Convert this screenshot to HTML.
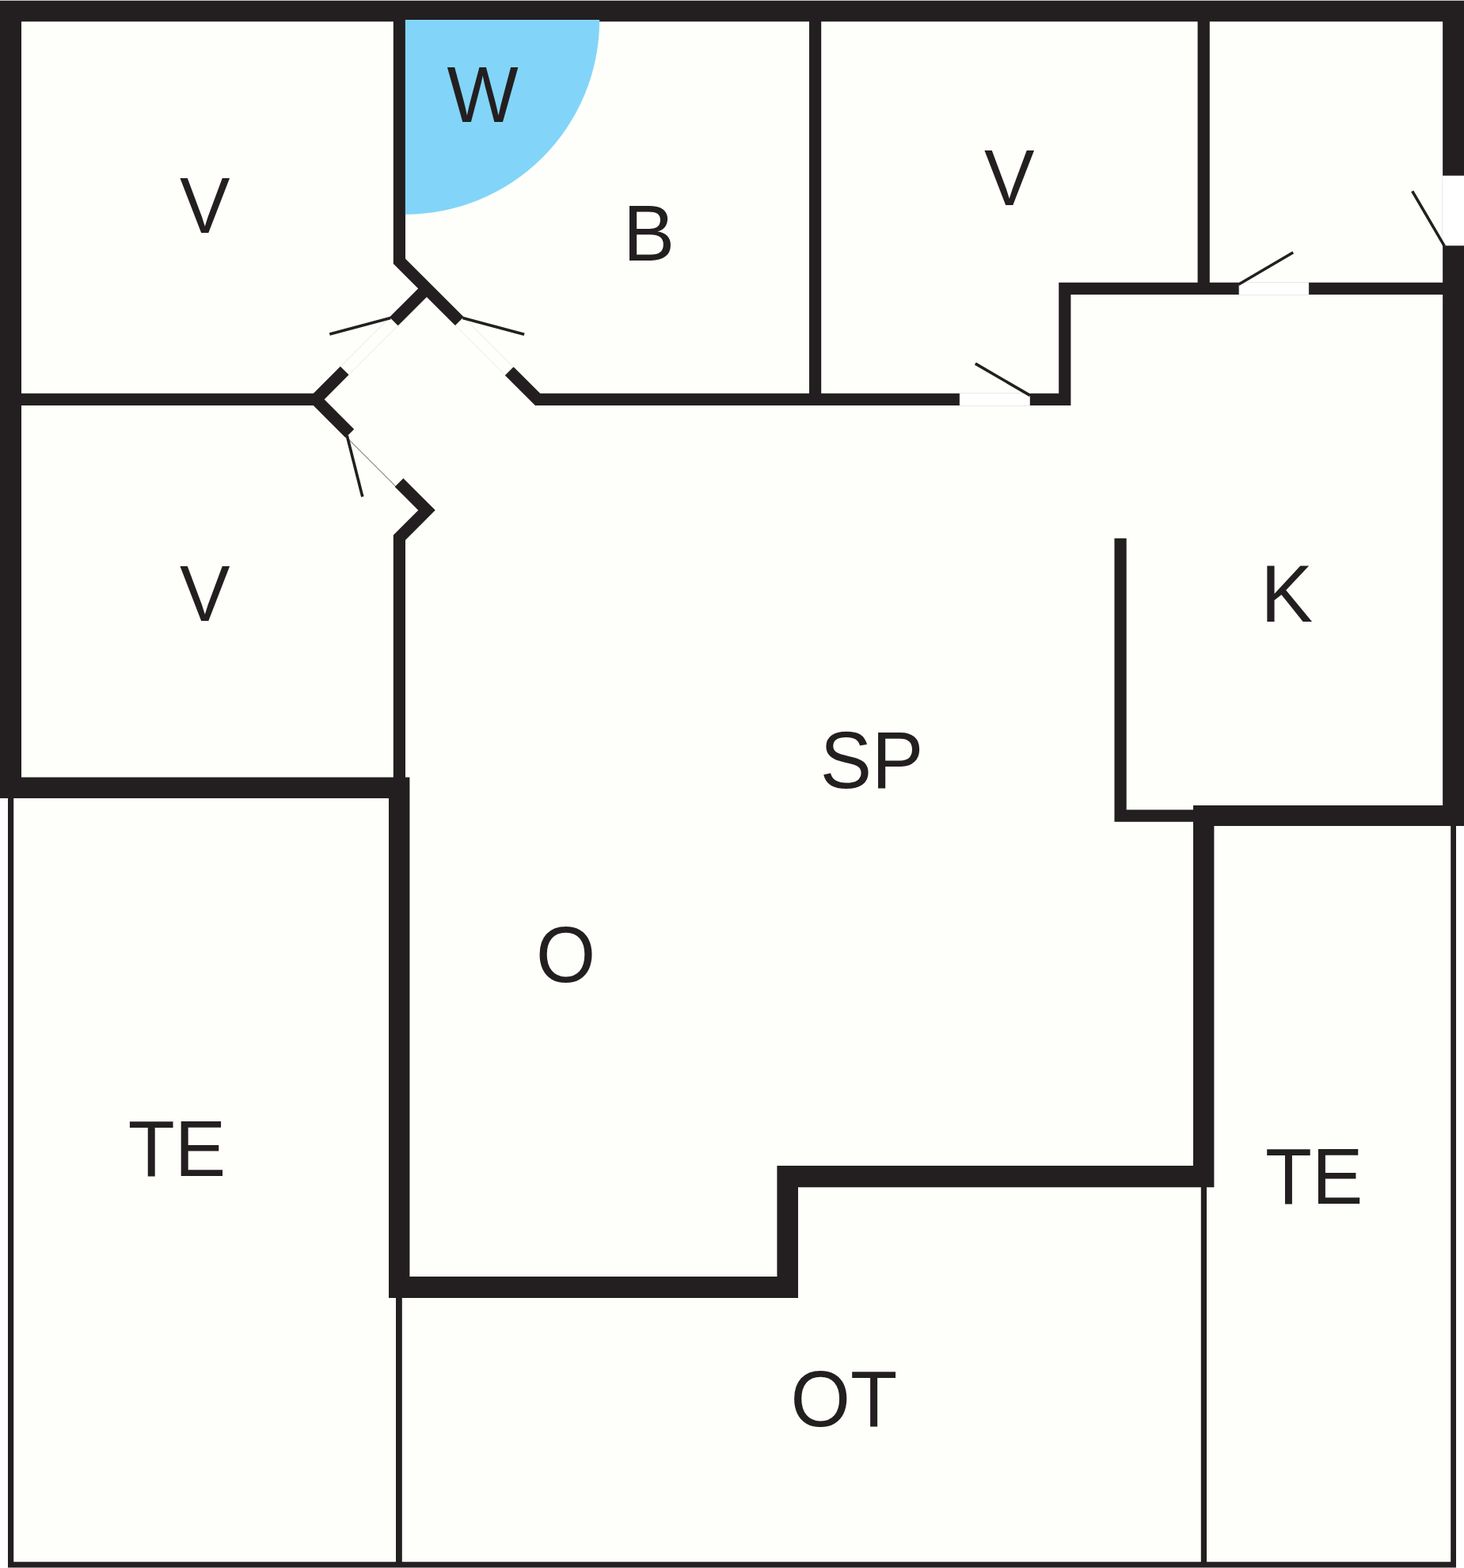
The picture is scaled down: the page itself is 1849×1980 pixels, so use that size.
<!DOCTYPE html>
<html lang="en">
<head>
<meta charset="utf-8">
<title>Floor plan</title>
<style>
html,body{margin:0;padding:0;background:#ffffff;}
body{width:1849px;height:1980px;overflow:hidden;}
svg{display:block;}
.lbl{font-family:"Liberation Sans",sans-serif;font-size:96.6px;fill:#231f20;}
.w{fill:#231f20;}
.t{fill:none;stroke:#231f20;stroke-width:15.2;stroke-linejoin:miter;stroke-linecap:butt;}
.d{fill:none;stroke:#231f20;stroke-width:3.6;stroke-linecap:butt;}
.o{fill:#ffffff;stroke:#e2e3df;stroke-width:0.7;}
.od{fill:none;stroke:#e4e5e0;stroke-width:0.9;}
</style>
</head>
<body>
<svg width="1849" height="1980" viewBox="0 0 1849 1980">
<!-- interior floor -->
<path fill="#fefffa" d="M0 0H1849V1043H1839V1980H10V1008H0Z"/>

<!-- thin walls -->
<g class="t">
<path d="M504.4 20V329.8L580.3 405.6"/>
<path d="M538.9 364.3L497.3 405.9"/>
<path d="M435.2 468L398.9 504.4L441.8 547.3"/>
<path d="M20 504.4H398.9"/>
<path d="M643.2 468.6L679.1 504.4H1212.2"/>
<path d="M1300.4 504.4H1344.8V364.3H1565"/>
<path d="M1652.8 364.3H1830"/>
<path d="M1029.6 20V504.4"/>
<path d="M1520.2 20V364.3"/>
<path d="M504 609.3L539 644.3L504.4 678.9V990"/>
<path d="M1415.1 679.7V1030.2H1510"/>
</g>

<!-- door openings -->
<g class="o">
<rect x="1212.2" y="496.6" width="88.2" height="15.8"/>
<rect x="1565" y="356.6" width="87.8" height="15.8"/>
<rect x="1821.6" y="221.7" width="30" height="88.6"/>
<path class="od" d="M492.1 400.8L430.1 462.9M502.5 411.1L440.3 473.2"/>
<path class="od" d="M585.5 400.4L648.4 463.4M575.1 410.8L638 473.8"/>
</g>
<path d="M437 551.5L499.2 613.7" stroke="#231f20" stroke-width="0.8" fill="none"/>

<!-- door leaves -->
<g class="d">
<path d="M493.2 401.5L416.3 422"/>
<path d="M584.4 401.5L662.1 422.2"/>
<path d="M438.3 550.2L457.8 627.3"/>
<path d="M1301 499.4L1231.8 459.1"/>
<path d="M1564.2 359.2L1633.2 318.7"/>
<path d="M1824.4 310.8L1783.7 241.4"/>
</g>

<!-- thick outer walls -->
<path class="w" d="M0 0.8H1849V221.7H1822.1V27.2H27V981.6H517.4V1612H981.4V1472H1507V1017H1822.1V310.3H1849V1043.1H1533.4V1499.2H1008V1638.9H491V1007.9H0Z"/>

<!-- shower -->
<path fill="#82d5f8" d="M511.9 25.1H757.2A245.4 245.6 0 0 1 511.9 270.7Z"/>

<!-- terrace outlines -->
<path class="w" d="M10 1007H17.2V1972.2H500V1638H507.8V1972.2H1516.8V1498H1524V1972.2H1832.2V1042H1839V1979.4H10Z"/>

<!-- labels -->
<g class="lbl">
<text transform="matrix(0.9858 0 0 1.0361 227.11 293.90)">V</text>
<text transform="matrix(0.9895 0 0 1.0361 564.41 154.00)">W</text>
<text transform="matrix(1.0107 0 0 1.0391 787.01 328.90)">B</text>
<text transform="matrix(0.9858 0 0 1.0376 1243.11 258.80)">V</text>
<text transform="matrix(1.0226 0 0 1.0511 1592.32 784.90)">K</text>
<text transform="matrix(0.9858 0 0 1.0391 227.11 784.10)">V</text>
<text transform="matrix(1.0138 0 0 1.0467 1035.74 994.85)">SP</text>
<text transform="matrix(1.0000 0 0 1.0380 677.00 1239.86)">O</text>
<text transform="matrix(1.0000 0 0 1.0376 161.75 1485.00)">TE</text>
<text transform="matrix(0.9991 0 0 1.0376 1598.05 1520.00)">TE</text>
<text transform="matrix(1.0047 0 0 1.0438 998.48 1800.56)">OT</text>
</g>
</svg>
</body>
</html>
